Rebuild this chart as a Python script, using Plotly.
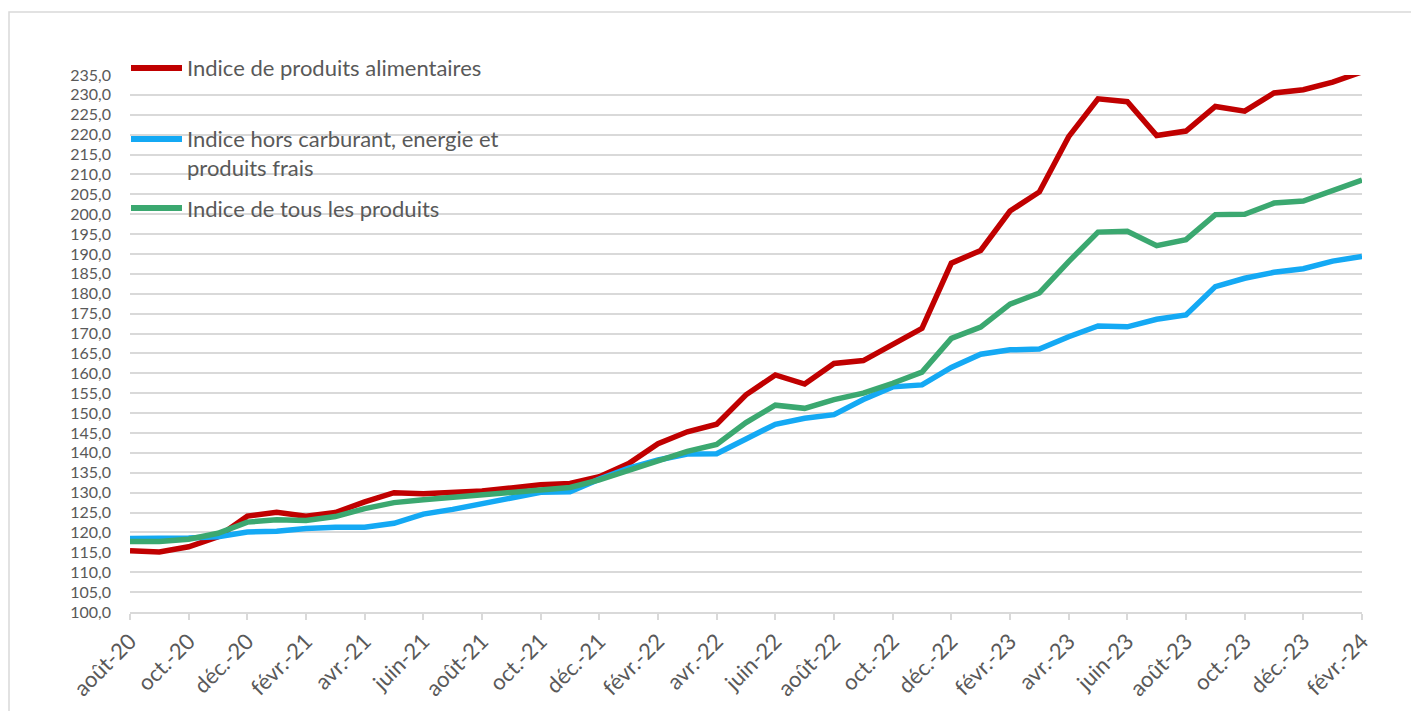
import plotly.graph_objects as go

months = ["août-20", "sept.-20", "oct.-20", "nov.-20", "déc.-20", "janv.-21", "févr.-21", "mars-21",
          "avr.-21", "mai-21", "juin-21", "juil.-21", "août-21", "sept.-21", "oct.-21", "nov.-21",
          "déc.-21", "janv.-22", "févr.-22", "mars-22", "avr.-22", "mai-22", "juin-22", "juil.-22",
          "août-22", "sept.-22", "oct.-22", "nov.-22", "déc.-22", "janv.-23", "févr.-23", "mars-23",
          "avr.-23", "mai-23", "juin-23", "juil.-23", "août-23", "sept.-23", "oct.-23", "nov.-23",
          "déc.-23", "janv.-24", "févr.-24"]

food = [115.4, 115.1, 116.4, 118.9, 124.1, 125.1, 124.1, 125.0, 127.7, 130.0, 129.7, 129.9,
        130.4, 131.2, 132.0, 132.3, 134.0, 137.3, 142.3, 145.3, 147.2, 154.6, 159.6, 157.3,
        162.5, 163.2, 167.1, 171.3, 187.7, 190.9, 200.8, 205.6, 219.5, 229.0, 228.3, 219.8,
        220.9, 227.1, 225.9, 230.5, 231.3, 233.2, 235.8]

core = [118.5, 118.5, 118.6, 118.9, 120.1, 120.3, 121.0, 121.3, 121.3, 122.3, 124.6, 125.8,
        127.3, 128.8, 130.1, 130.2, 133.4, 136.2, 138.2, 139.7, 139.8, 143.5, 147.2, 148.7,
        149.6, 153.4, 156.6, 157.1, 161.5, 164.8, 165.9, 166.1, 169.2, 171.9, 171.7, 173.6,
        174.7, 181.8, 183.9, 185.4, 186.3, 188.2, 189.4]

allp = [117.7, 117.7, 118.3, 119.8, 122.6, 123.2, 123.0, 124.0, 126.0, 127.5, 128.2, 128.8,
        129.4, 130.0, 130.7, 131.3, 133.2, 135.5, 137.9, 140.4, 142.1, 147.6, 152.0, 151.2,
        153.4, 155.0, 157.5, 160.3, 168.8, 171.6, 177.4, 180.2, 188.1, 195.5, 195.7, 192.1,
        193.6, 199.9, 200.0, 202.8, 203.3, 205.9, 208.6]

names = ["Indice de produits alimentaires",
         "Indice hors carburant, energie et<br>produits frais",
         "Indice de tous les produits"]
colors = ["#C00000", "#14A9F4", "#3BA870"]
series = [food, core, allp]

FONT = "Lato"
GREY = "#595959"

W, H = 1411, 711
L, R, T, B = 130, 49, 75, 99
pw, ph = W - L - R, H - T - B


def px_x(p):
    return (p - L) / pw


def px_y(p):
    return (H - B - p) / ph


fig = go.Figure()
for name, col, vals in zip(names, colors, series):
    fig.add_trace(go.Scatter(x=months, y=vals, mode="lines", name=name.replace("<br>", " "),
                             line=dict(color=col, width=5.5), showlegend=False))

# legend drawn as sample strokes + text (positions of the legend box only)
legend_rows = [68, 139, 208]
legend_text_y = [68, 153, 208]
shapes = [dict(type="rect", xref="paper", yref="paper",
               x0=px_x(9), x1=px_x(1430), y0=px_y(730), y1=px_y(12),
               line=dict(color="#D9D9D9", width=1.5), fillcolor="rgba(0,0,0,0)",
               layer="below")]
annotations = []
for name, col, ry, ty in zip(names, colors, legend_rows, legend_text_y):
    shapes.append(dict(type="line", xref="paper", yref="paper",
                       x0=px_x(131), x1=px_x(182), y0=px_y(ry), y1=px_y(ry),
                       line=dict(color=col, width=6)))
    annotations.append(dict(xref="paper", yref="paper", x=px_x(185), y=px_y(ty),
                            xanchor="left", yanchor="middle", align="left",
                            text=name, showarrow=False,
                            font=dict(family=FONT, size=22, color=GREY)))

fig.update_layout(
    width=W, height=H,
    margin=dict(l=L, r=R, t=T, b=B, autoexpand=False),
    paper_bgcolor="white", plot_bgcolor="white",
    separators=", ",
    showlegend=False,
    font=dict(family=FONT, color=GREY),
    xaxis=dict(type="category", range=[0, len(months) - 1],
               tickvals=months[::2], ticktext=months[::2],
               tickangle=-45, tickfont=dict(family=FONT, size=22, color=GREY),
               showgrid=False, showline=True, linecolor="#D9D9D9", linewidth=1.5,
               ticks="outside", ticklen=6, tickcolor="#D9D9D9", tickwidth=1.5,
               zeroline=False, automargin=False),
    yaxis=dict(range=[100, 235], tick0=100, dtick=5, tickformat=".1f",
               tickfont=dict(family=FONT, size=16, color=GREY),
               showgrid=True, gridcolor="#D9D9D9", gridwidth=1.5,
               showline=False, zeroline=False, ticks="", ticklabelstandoff=18,
               automargin=False),
    shapes=shapes,
    annotations=annotations,
)

fig.write_html("out.html", config={"displayModeBar": False},
               post_script="document.body.style.margin='0';")
